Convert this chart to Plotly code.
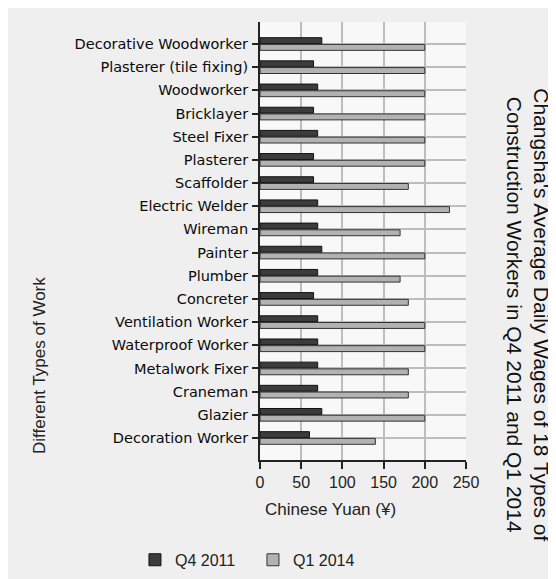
import plotly.graph_objects as go

categories = [
    "Decorative Woodworker", "Plasterer (tile fixing)", "Woodworker", "Bricklayer",
    "Steel Fixer", "Plasterer", "Scaffolder", "Electric Welder", "Wireman", "Painter",
    "Plumber", "Concreter", "Ventilation Worker", "Waterproof Worker", "Metalwork Fixer",
    "Craneman", "Glazier", "Decoration Worker",
]
q4_2011 = [75, 65, 70, 65, 70, 65, 65, 70, 70, 75, 70, 65, 70, 70, 70, 70, 75, 60]
q1_2014 = [200, 200, 200, 200, 200, 200, 180, 230, 170, 200, 170, 180, 200, 200, 180, 180, 200, 140]
x_ticks = [0, 50, 100, 150, 200, 250]

fig = go.Figure()
fig.add_trace(go.Bar(
    y=categories, x=q4_2011, orientation="h", name="Q4 2011",
    marker=dict(color="#3c3c3c", line=dict(color="#111111", width=1)),
))
fig.add_trace(go.Bar(
    y=categories, x=q1_2014, orientation="h", name="Q1 2014",
    marker=dict(color="#b2b2b2", line=dict(color="#333333", width=1)),
))

fig.update_layout(
    width=548, height=571,
    margin=dict(l=252, r=90, t=14, b=119, autoexpand=False),
    paper_bgcolor="#efefef",
    plot_bgcolor="#f8f8f8",
    barmode="group",
    bargap=0.42,
    bargroupgap=0.12,
    showlegend=True,
    legend=dict(
        orientation="h", x=-0.607, xanchor="left", y=-0.228, yanchor="middle",
        xref="paper", yref="paper",
        entrywidth=73, entrywidthmode="pixels",
        font=dict(family="Liberation Sans Narrow, Liberation Sans", size=16, color="#222"),
        bgcolor="rgba(0,0,0,0)",
    ),
    font=dict(family="Liberation Sans, Arial", color="#222"),
)

fig.update_xaxes(
    range=[0, 250], tickvals=x_ticks, ticktext=[str(v) for v in x_ticks],
    showgrid=True, gridcolor="#bdbdbd", gridwidth=1.5,
    showline=True, linecolor="#222", linewidth=2,
    ticks="outside", ticklen=7, tickwidth=2, tickcolor="#222",
    tickfont=dict(family="Liberation Sans Narrow, Liberation Sans", size=16, color="#222"),
    zeroline=False, automargin=False,
)
fig.update_yaxes(
    type="category", categoryorder="array", categoryarray=categories,
    range=[17.95, -0.95],
    showgrid=True, gridcolor="#bdbdbd", gridwidth=1.5,
    showline=True, linecolor="#222", linewidth=2,
    ticks="outside", ticklen=6, tickwidth=2, tickcolor="#222",
    tickfont=dict(family="DejaVu Sans", size=14.5, color="#0a0a0a"),
    ticklabelstandoff=1, automargin=False,
)

# axis titles
fig.add_annotation(
    text="Chinese Yuan (¥)", xref="paper", yref="paper", x=0.015, y=-0.114,
    xanchor="left", yanchor="middle", showarrow=False,
    font=dict(family="Liberation Sans Narrow, Liberation Sans", size=17, color="#222"),
)
fig.add_annotation(
    text="Different Types of Work", xref="paper", yref="paper", x=-1.068, y=0.217,
    xanchor="center", yanchor="middle", textangle=-90, showarrow=False,
    font=dict(family="Liberation Sans Narrow, Liberation Sans", size=17, color="#222"),
)
# chart title (rotated, on the right)
fig.add_annotation(
    text="Changsha's Average Daily Wages of 18 Types of<br>Construction Workers in Q4 2011 and Q1 2014",
    xref="paper", yref="paper", x=1.30, y=0.331,
    xanchor="center", yanchor="middle", textangle=90, showarrow=False,
    font=dict(family="Liberation Sans", size=21, color="#111"),
)

fig.write_html("out.html")
